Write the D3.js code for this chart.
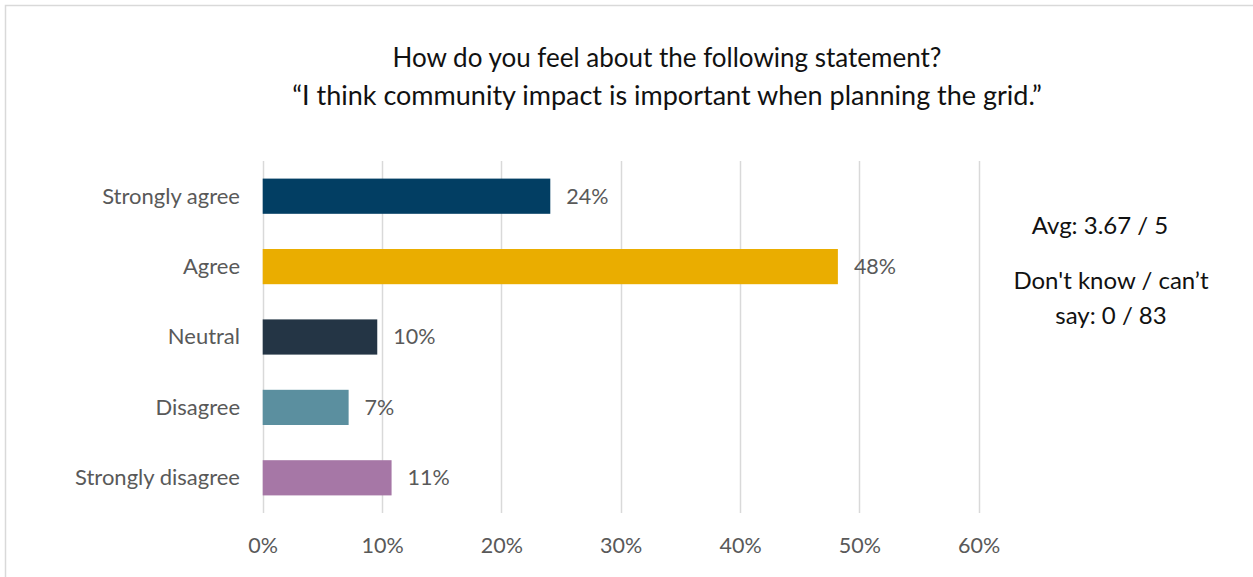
<!DOCTYPE html>
<html>
<head>
<meta charset="utf-8">
<script src="https://cdn.jsdelivr.net/npm/d3@7"></script>
<style>
  html, body { margin: 0; padding: 0; background: #ffffff; }
  svg { display: block; }
</style>
</head>
<body>
<svg id="chart" width="1253" height="577"></svg>
<script>
// Survey responses (share of 83 respondents, percent)
const categories = ["Strongly agree", "Agree", "Neutral", "Disagree", "Strongly disagree"];
const values = [24.1, 48.2, 9.6, 7.2, 10.8];
const colors = ["#023e63", "#eaad00", "#243545", "#5b8f9f", "#a677a6"];
const tickValues = [0, 10, 20, 30, 40, 50, 60];
const titleLines = ["How do you feel about the following statement?",
                    "\u201cI think community impact is important when planning the grid.\u201d"];
const noteLines = [["Avg: 3.67 / 5"], ["Don't know / can\u2019t", "say: 0 / 83"]];

const FONT = "Lato, 'Open Sans', sans-serif";
const svg = d3.select("#chart");

// chart frame (top and left edges visible)
svg.append("path")
  .attr("d", "M5.5,577 V5.5 H1253")
  .attr("fill", "none")
  .attr("stroke", "#d9d9d9")
  .attr("stroke-width", 1.5);

// title
svg.append("g").selectAll("text")
  .data(titleLines)
  .join("text")
  .attr("x", 667)
  .attr("y", (d, i) => 67 + i * 38)
  .attr("text-anchor", "middle")
  .attr("font-family", FONT)
  .attr("font-size", (d, i) => i === 0 ? 26 : 27)
  .attr("fill", "#111111")
  .text(d => d);

const x = d3.scaleLinear().domain([0, 60]).range([262.7, 978.7]);
const y = d3.scaleBand().domain(categories).range([161, 513]).paddingInner(0.5).paddingOuter(0.25);

// vertical gridlines
svg.append("g").selectAll("line")
  .data(tickValues)
  .join("line")
  .attr("x1", d => Math.round(x(d)) + 0.5)
  .attr("x2", d => Math.round(x(d)) + 0.5)
  .attr("y1", 161)
  .attr("y2", 513)
  .attr("stroke", "#d9d9d9")
  .attr("stroke-width", 1.5);

// x axis tick labels
const xAxis = d3.axisBottom(x)
  .tickValues(tickValues)
  .tickFormat(d => d + "%")
  .tickSize(0)
  .tickPadding(0);
const gx = svg.append("g").attr("transform", "translate(0,553)").call(xAxis);
gx.select(".domain").remove();
gx.selectAll("text")
  .attr("dy", 0)
  .attr("font-family", FONT)
  .attr("font-size", 21.5)
  .attr("fill", "#595959");

// y axis category labels
const yAxis = d3.axisLeft(y).tickSize(0).tickPadding(0);
const gy = svg.append("g").attr("transform", "translate(240,0)").call(yAxis);
gy.select(".domain").remove();
gy.selectAll("text")
  .attr("dy", "0.34em")
  .attr("font-family", FONT)
  .attr("font-size", 22)
  .attr("fill", "#595959");

// bars
svg.append("g").selectAll("rect")
  .data(categories)
  .join("rect")
  .attr("x", x(0))
  .attr("y", d => y(d))
  .attr("width", (d, i) => x(values[i]) - x(0))
  .attr("height", y.bandwidth())
  .attr("fill", (d, i) => colors[i]);

// value labels
svg.append("g").selectAll("text")
  .data(categories)
  .join("text")
  .attr("x", (d, i) => x(values[i]) + 16)
  .attr("y", d => y(d) + y.bandwidth() / 2)
  .attr("dy", "0.34em")
  .attr("font-family", FONT)
  .attr("font-size", 21.5)
  .attr("fill", "#595959")
  .text((d, i) => Math.round(values[i]) + "%");

// side notes
const noteY = [[234], [289, 324]];
const noteX = [1100, 1111];
noteLines.forEach((lines, k) => {
  svg.append("g").selectAll("text")
    .data(lines)
    .join("text")
    .attr("x", noteX[k])
    .attr("y", (d, i) => noteY[k][i])
    .attr("text-anchor", "middle")
    .attr("font-family", FONT)
    .attr("font-size", 24)
    .attr("fill", "#111111")
    .text(d => d);
});
</script>
</body>
</html>
